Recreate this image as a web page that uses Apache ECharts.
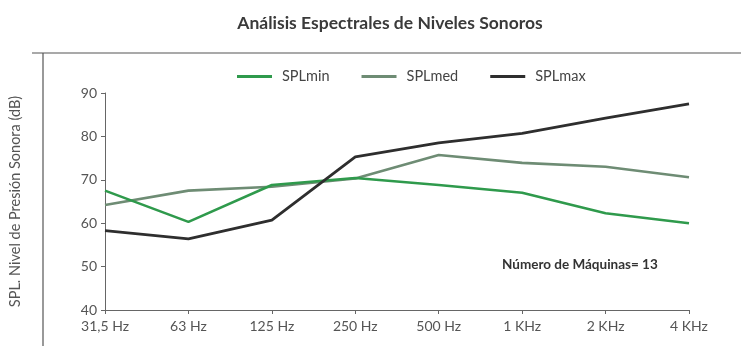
<!DOCTYPE html>
<html>
<head>
<meta charset="utf-8">
<script src="https://cdn.jsdelivr.net/npm/echarts@6/dist/echarts.min.js"></script>
<style>
  html, body { margin: 0; padding: 0; background: #fff; }
  #chart { width: 741px; height: 346px; }
</style>
</head>
<body>
<div id="chart"></div>
<script>
// Octave-band centre frequencies
var bands = ['31,5 Hz', '63 Hz', '125 Hz', '250 Hz', '500 Hz', '1 KHz', '2 KHz', '4 KHz'];

// Sound pressure levels per band (dB)
var splMin = [67.5, 60.3, 68.8, 70.4, 68.8, 67.0, 62.3, 60.0];
var splMed = [64.2, 67.5, 68.4, 70.3, 75.7, 73.9, 73.0, 70.6];
var splMax = [58.3, 56.4, 60.7, 75.3, 78.5, 80.7, 84.2, 87.5];

var yTicks = [40, 50, 60, 70, 80, 90];

var FONT = 'Lato, "Open Sans", sans-serif';

var chart = echarts.init(document.getElementById('chart'), null, { renderer: 'canvas' });

chart.setOption({
  animation: false,
  backgroundColor: '#ffffff',
  title: {
    text: 'Análisis Espectrales de Niveles Sonoros',
    left: 385,
    top: 9,
    textAlign: 'center',
    textStyle: { fontFamily: FONT, fontSize: 17.5, fontWeight: 'bold', color: '#3a3a3a' }
  },
  legend: {
    top: 64,
    left: 232,
    itemWidth: 35,
    itemHeight: 3,
    itemGap: 32,
    icon: 'rect',
    textStyle: { fontFamily: FONT, fontSize: 14.5, color: '#444', padding: [0, 0, 0, 5] },
    data: ['SPLmin', 'SPLmed', 'SPLmax']
  },
  grid: { left: 105, right: 52, top: 93, bottom: 36 },
  graphic: [
    { type: 'line', shape: { x1: 32, y1: 53, x2: 741, y2: 53 }, style: { stroke: '#555', lineWidth: 1.2 } },
    { type: 'line', shape: { x1: 43, y1: 53, x2: 43, y2: 346 }, style: { stroke: '#555', lineWidth: 1.2 } },
    {
      type: 'text', left: 502, top: 258,
      style: { text: 'Número de Máquinas= 13', fontFamily: FONT, fontSize: 13.5, fontWeight: 'bold', fill: '#333' }
    }
  ],
  xAxis: {
    type: 'category',
    data: bands,
    boundaryGap: false,
    axisLine: { lineStyle: { color: '#666', width: 1 } },
    axisTick: { show: true, alignWithLabel: true, length: 4, lineStyle: { color: '#666' } },
    axisLabel: { fontFamily: FONT, fontSize: 14, color: '#555', margin: 9 },
    splitLine: { show: false }
  },
  yAxis: {
    type: 'value',
    min: yTicks[0],
    max: yTicks[yTicks.length - 1],
    interval: 10,
    name: 'SPL. Nivel de Presión Sonora (dB)',
    nameLocation: 'middle',
    nameGap: 82,
    nameRotate: 90,
    nameTextStyle: { fontFamily: FONT, fontSize: 14.5, color: '#555' },
    axisLine: { show: true, lineStyle: { color: '#666', width: 1 } },
    axisTick: { show: true, length: 4, lineStyle: { color: '#666' } },
    axisLabel: { fontFamily: FONT, fontSize: 14, color: '#555', margin: 8 },
    splitLine: { show: false }
  },
  series: [
    {
      name: 'SPLmin', type: 'line', data: splMin, symbol: 'none',
      lineStyle: { color: '#2f9a4c', width: 2.6 }, itemStyle: { color: '#2f9a4c' }, z: 3
    },
    {
      name: 'SPLmed', type: 'line', data: splMed, symbol: 'none',
      lineStyle: { color: '#6e8c74', width: 2.6 }, itemStyle: { color: '#6e8c74' }, z: 2
    },
    {
      name: 'SPLmax', type: 'line', data: splMax, symbol: 'none',
      lineStyle: { color: '#2e2e2e', width: 2.8 }, itemStyle: { color: '#2e2e2e' }, z: 4
    }
  ]
});
</script>
</body>
</html>
